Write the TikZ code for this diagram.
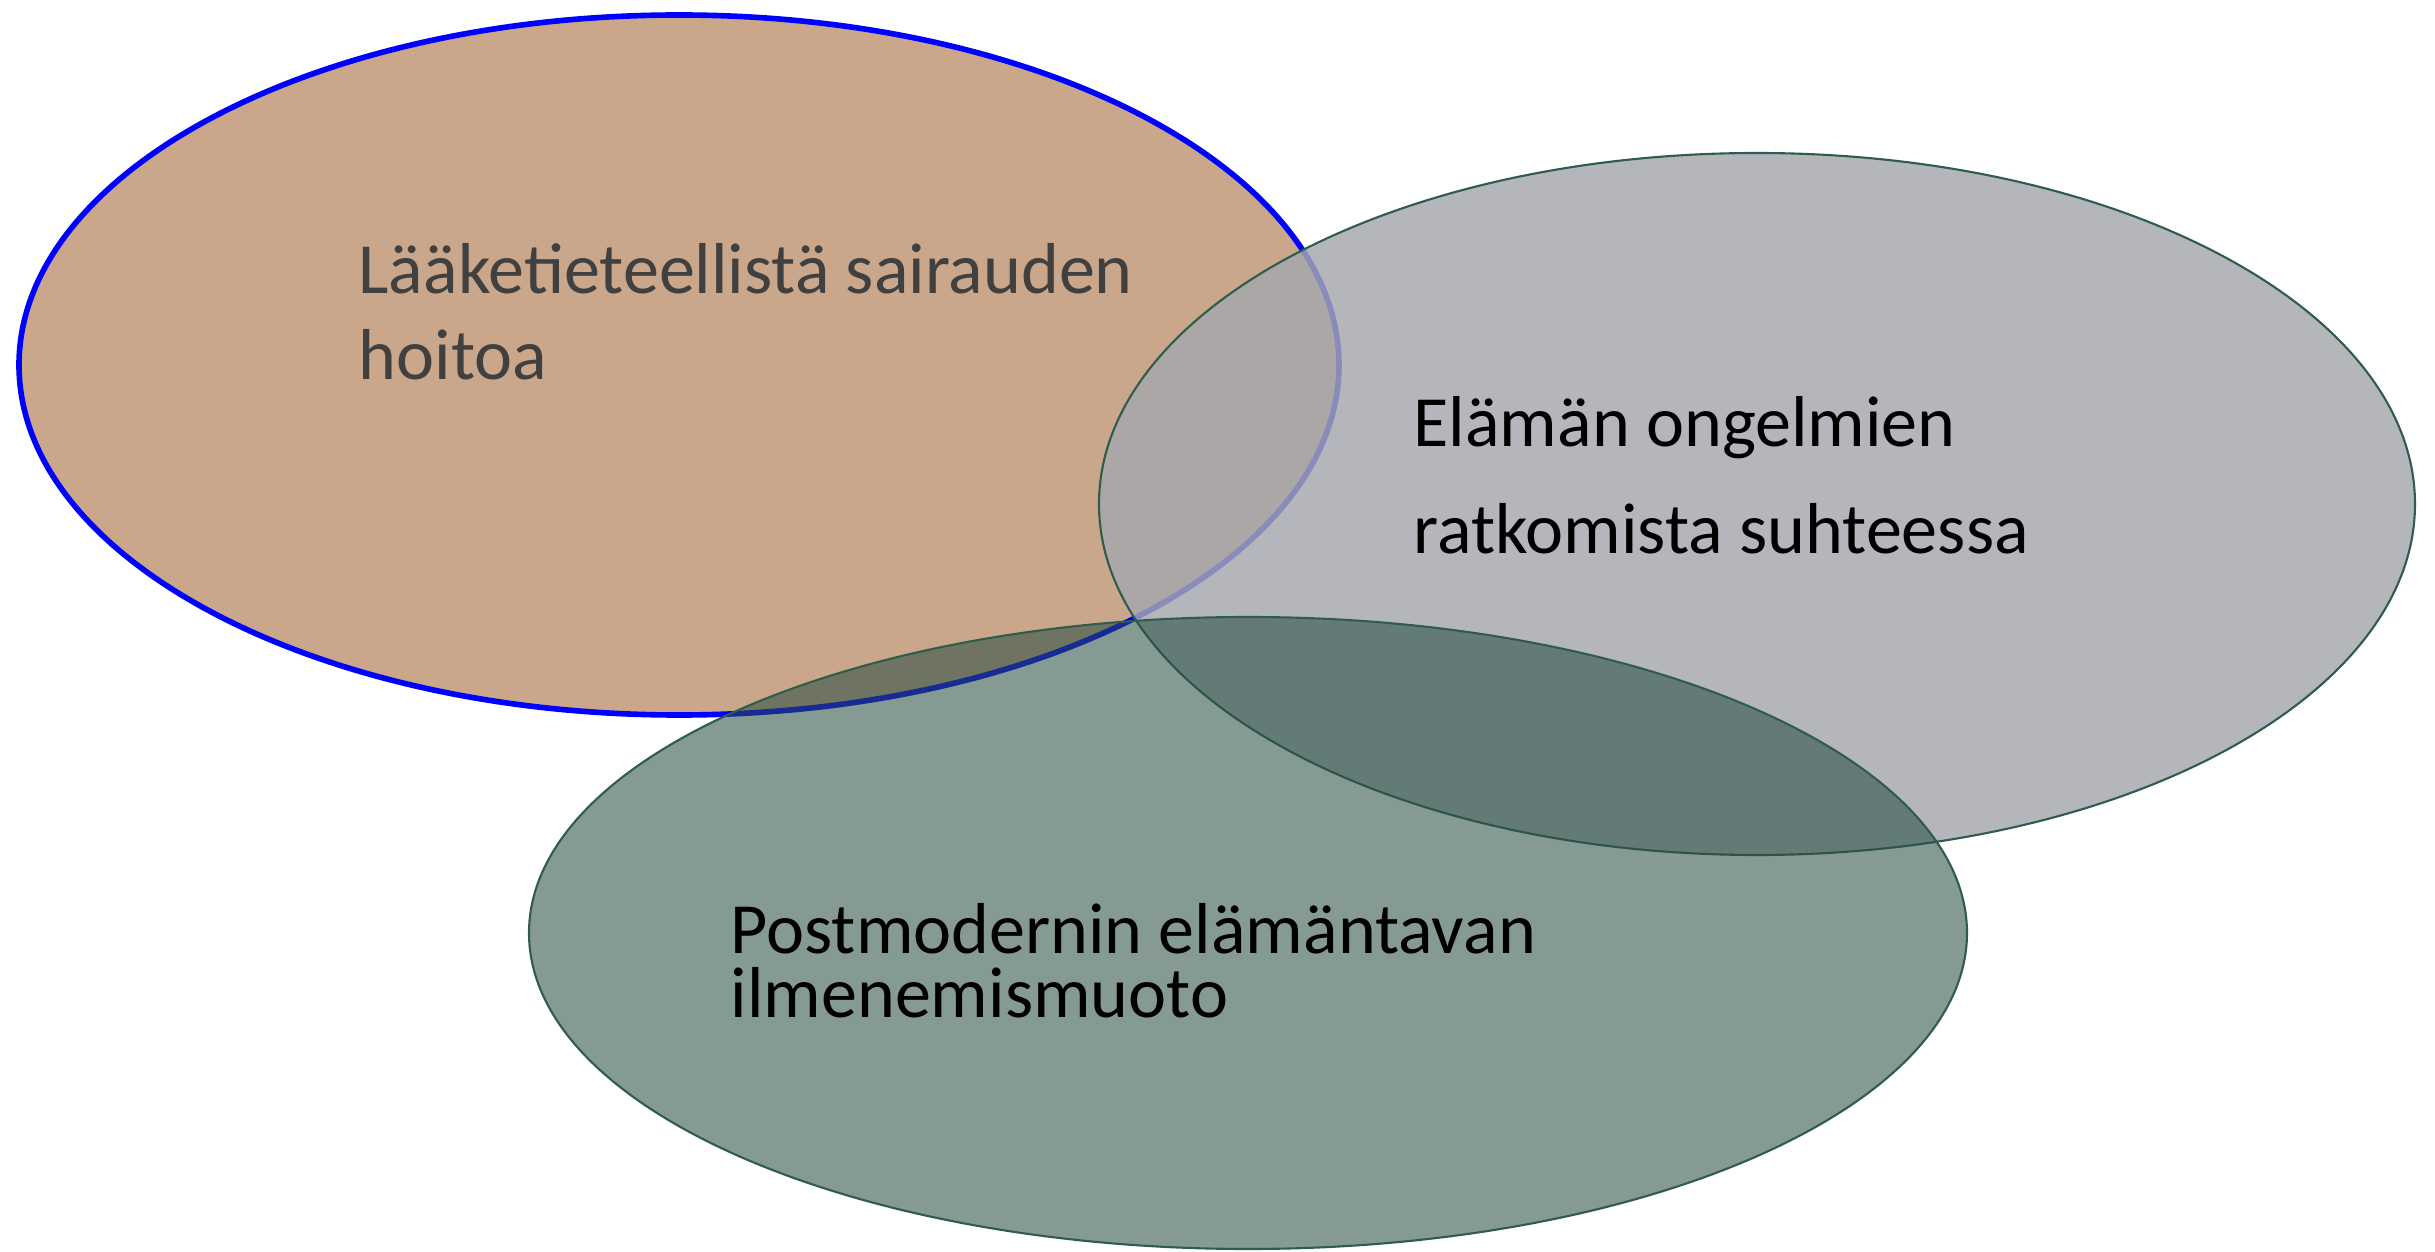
\documentclass[tikz,border=0pt]{standalone}
\usepackage{fontspec}
\setmainfont{Carlito}

\definecolor{medfill}{RGB}{202,167,138}
\definecolor{lifefill}{RGB}{165,168,174}
\definecolor{postfill}{RGB}{41,78,66}
\definecolor{setline}{RGB}{48,92,78}
\definecolor{darktext}{RGB}{64,64,64}

\begin{document}
\begin{tikzpicture}[x=0.01cm,y=-0.01cm,
    venn/.style={
      % Border
      draw=setline,line width=0.6pt
      },
    setlabel/.style={anchor=base west,align=left,inner sep=0pt,
      font=\fontsize{20.5pt}{24.7pt}\selectfont}]
  \useasboundingbox (0,0) rectangle (2435,1252);
  \fill[white] (0,0) rectangle (2435,1252);

  \coordinate (med) at (679,365);
  \coordinate (life) at (1757,504);
  \coordinate (post) at (1248,933);

  \draw [fill=medfill,draw=blue,line width=1.6pt] (med) ellipse [x radius=660,y radius=350];
  \draw [venn,fill=lifefill,fill opacity=0.83] (life) ellipse [x radius=658,y radius=351];
  \draw [venn,fill=postfill,fill opacity=0.57] (post) ellipse [x radius=719,y radius=316];

  % anchor is the baseline of the last line
  \node (med-text) [setlabel,text=darktext] at (358,380) {Lääketieteellistä sairauden\\hoitoa};
  \node (life-text) [setlabel,font=\fontsize{20.5pt}{30.7pt}\selectfont] at (1413,554) {Elämän ongelmien\\ratkomista suhteessa};
  \node (post-text) [setlabel,font=\fontsize{20.5pt}{18pt}\selectfont] at (730,1017) {Postmodernin elämäntavan\\ilmenemismuoto};
\end{tikzpicture}
\end{document}
